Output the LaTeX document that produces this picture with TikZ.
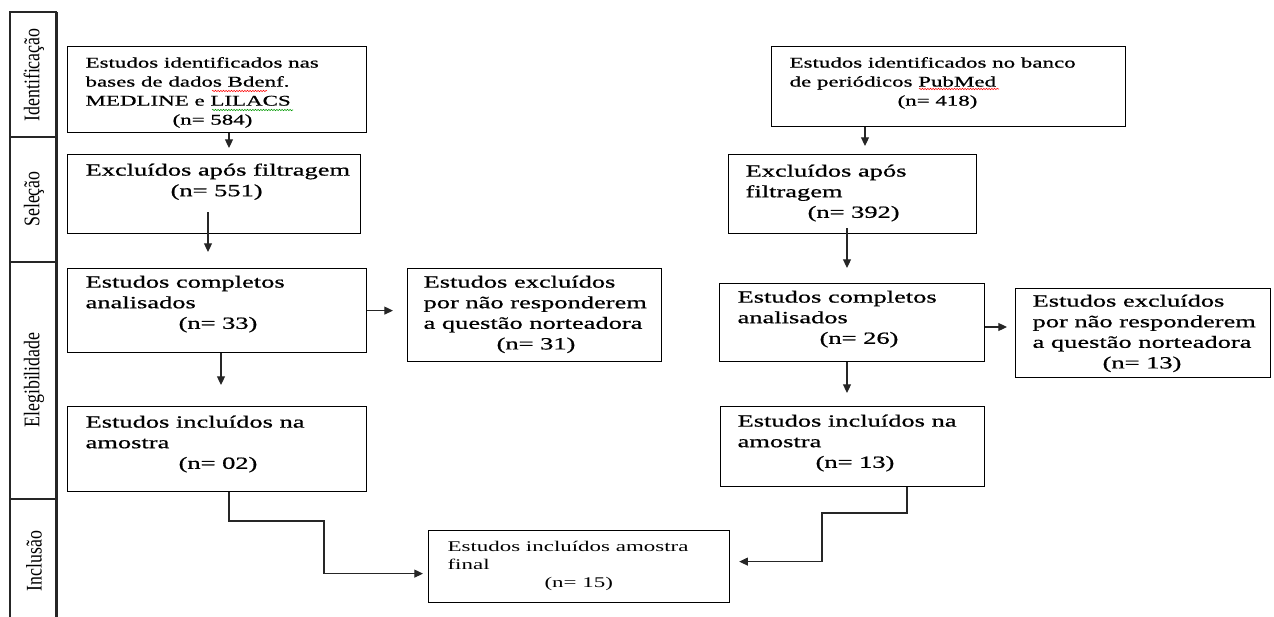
\documentclass[tikz,border=0pt]{standalone}
\usepackage{graphicx}
\usepackage{fontspec}
\setmainfont{Liberation Serif}[FakeStretch=1.55,FakeBold=0.8]
\newfontfamily\finfont{Liberation Serif}[FakeStretch=1.55]
\newfontfamily\sidefont{Liberation Serif}
\usetikzlibrary{arrows.meta,decorations.pathmorphing}
\newdimen\pxu \pxu=0.75pt
\newcommand{\bigtext}{\fontsize{12.8pt}{15.45pt}\selectfont}
\newcommand{\smalltext}{\fontsize{11.1pt}{14.25pt}\selectfont}
\newcommand{\fintext}{\finfont\fontsize{11.1pt}{13.5pt}\selectfont}
% width, height, left inset, first baseline, text
\newcommand{\bx}[5]{\parbox[c][#2\pxu][t]{#1\pxu}{\raggedright\leftskip=#3\pxu\rule{0pt}{#4\pxu}#5}}
\tikzset{
  fbox/.style={draw=black, line width=0.9pt, inner sep=0pt, anchor=north west},
  arr/.style={draw=black!85, line width=0.8pt, -{Triangle[length=6.5pt,width=6pt]}},
  side/.style={rotate=90, font=\sidefont\fontsize{13.4pt}{16pt}\selectfont},
  sideline/.style={draw=black!85, line width=0.9pt},
  squig/.style={line width=0.4pt, decorate, decoration={snake, amplitude=0.5pt, segment length=2pt}}
}
\begin{document}
\begin{tikzpicture}[x=0.75pt, y=-0.75pt]
\useasboundingbox (0,0) rectangle (1274,617);

% side bar
\draw[sideline] (10,617) -- (10,12) -- (57,12);
\draw[black!85, line width=2pt] (56.5,12) -- (56.5,617);
\draw[sideline] (10,137) -- (57,137);
\draw[sideline] (10,262) -- (57,262);
\draw[sideline] (10,499) -- (57,499);
\node[side] (lid) at (34,75) {\scalebox{1}[1.25]{Identificação}};
\node[side] (lsel) at (34,199) {\scalebox{1}[1.25]{Seleção}};
\node[side] (leleg) at (34,380) {\scalebox{1}[1.25]{Elegibilidade}};
\node[side] (linc) at (34,561) {\scalebox{1}[1.25]{Inclusão}};

% left column
\node[fbox] (b1) at (67,46) {\bx{299}{86}{18}{21}{\smalltext Estudos identificados nas\\bases de dados Bdenf.\\MEDLINE e LILACS\\\hspace*{87\pxu}(n= 584)}};
\node[fbox] (b2) at (67,154) {\bx{293}{79}{18}{21}{\bigtext Excluídos após filtragem\\\hspace*{85\pxu}(n= 551)}};
\node[fbox] (b3) at (67,268) {\bx{299}{84}{18}{19}{\bigtext Estudos completos\\analisados\\\hspace*{93\pxu}(n= 33)}};
\node[fbox] (b4) at (67,406) {\bx{299}{85}{18}{21}{\bigtext Estudos incluídos na\\amostra\\\hspace*{93\pxu}(n= 02)}};
\node[fbox] (lex) at (407,268) {\bx{254}{93}{16}{19}{\bigtext Estudos excluídos\\por não responderem\\a questão norteadora\\\hspace*{73\pxu}(n= 31)}};

% right column
\node[fbox] (r1) at (771,46) {\bx{354}{80}{18}{21}{\smalltext Estudos identificados no banco\\de periódicos PubMed\\\hspace*{108\pxu}(n= 418)}};
\node[fbox] (r2) at (728,154) {\bx{248}{79}{17}{22}{\bigtext Excluídos após\\filtragem\\\hspace*{62\pxu}(n= 392)}};
\node[fbox] (r3) at (719,283) {\bx{265}{78}{18}{19}{\bigtext Estudos completos\\analisados\\\hspace*{82\pxu}(n= 26)}};
\node[fbox] (r4) at (1015,288) {\bx{255}{89}{17}{18}{\bigtext Estudos excluídos\\por não responderem\\a questão norteadora\\\hspace*{70\pxu}(n= 13)}};
\node[fbox] (r5) at (720,406) {\bx{264}{80}{17}{20}{\bigtext Estudos incluídos na\\amostra\\\hspace*{78\pxu}(n= 13)}};

% final
\node[fbox] (fin) at (428,530) {\bx{301}{72}{19}{21}{\fintext Estudos incluídos amostra\\final\\\hspace*{97\pxu}(n= 15)}};

% spell-check squiggles
\draw[squig, red] (212,91) -- (267,91);
\draw[squig, green!60!black] (212,110) -- (293,110);
\draw[squig, red] (919,89) -- (999,89);

% helper coordinates
\coordinate (x229) at (229,0);
\coordinate (x208) at (208,0);
\coordinate (x221) at (221,0);
\coordinate (x865) at (865,0);
\coordinate (x847) at (847,0);
\coordinate (x907) at (907,0);
\coordinate (y327) at (0,327);
\coordinate (lj) at (324,521);
\coordinate (rj) at (822,513);

% left connectors
\draw[arr, shorten >=6\pxu] (b1.south -| x229) -- (b2.north -| x229);
\draw[arr, shorten >=16\pxu] (b2.south -| x208) ++(0,-22) -- (b3.north -| x208);
\draw[arr, shorten >=14\pxu] (b3.east) -- (lex.west |- b3.east);
\draw[arr, shorten >=21\pxu] (b3.south -| x221) -- (b4.north -| x221);
\draw[arr, shorten >=5\pxu] (b4.south -| x229) |- (lj) |- ([yshift=-7\pxu]fin.west);

% right connectors
\draw[arr, shorten >=8\pxu] (r1.south -| x865) -- (r2.north -| x865);
\draw[arr, shorten >=15\pxu] (r2.south -| x847) ++(0,-6) -- (r3.north -| x847);
\draw[arr, shorten >=8\pxu] (r3.east |- y327) -- (r4.west |- y327);
\draw[arr, shorten >=13\pxu] (r3.south -| x847) -- (r5.north -| x847);
\draw[arr, shorten >=9\pxu] (r5.south -| x907) |- (rj) |- ([yshift=5\pxu]fin.east);
\end{tikzpicture}
\end{document}
